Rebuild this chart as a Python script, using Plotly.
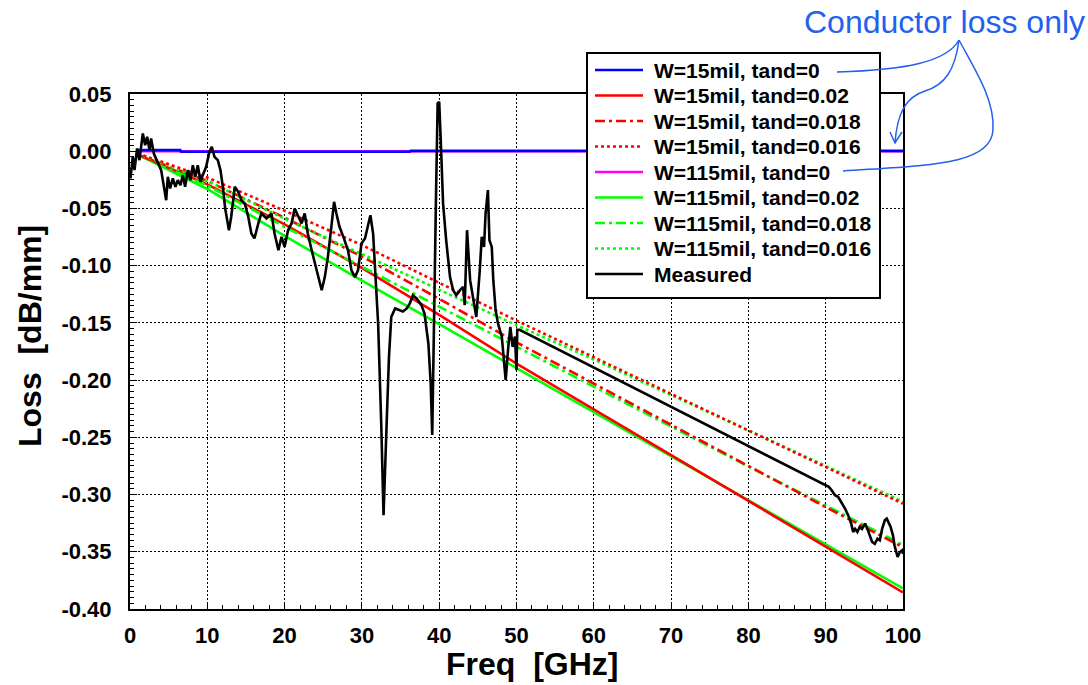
import plotly.graph_objects as go

# ---------------- data ----------------
freq_model = [1, 10, 20, 30, 40, 50, 60, 70, 80, 90, 100]

freq_w15_t0 = [1, 6.5, 6.6, 36.2, 36.3, 100]
loss_w15_t0 = [0.001, 0.001, -0.0005, -0.0005, 0.0003, 0.0003]

loss_w115_t0 = [0.0, 0.0, 0.0, 0.0, 0.0, 0.0, 0.0, 0.0, 0.0, 0.0, 0.0]

loss_w15_t020 = [-0.003, -0.029, -0.064, -0.102, -0.143, -0.1855, -0.2255, -0.2655, -0.3055, -0.3455, -0.3855]
loss_w15_t018 = [-0.003, -0.026, -0.058, -0.092, -0.129, -0.167, -0.203, -0.239, -0.275, -0.311, -0.346]
loss_w15_t016 = [-0.002, -0.023, -0.052, -0.082, -0.115, -0.148, -0.180, -0.212, -0.244, -0.276, -0.308]

loss_w115_t020 = [-0.003, -0.033, -0.074, -0.113, -0.151, -0.1895, -0.228, -0.2665, -0.305, -0.3435, -0.382]
loss_w115_t018 = [-0.003, -0.030, -0.066, -0.101, -0.136, -0.171, -0.206, -0.241, -0.2755, -0.3095, -0.344]
loss_w115_t016 = [-0.002, -0.026, -0.059, -0.090, -0.121, -0.152, -0.182, -0.213, -0.244, -0.275, -0.306]

meas_freq = [
    0.06, 0.36, 0.58, 0.92, 1.22, 1.66, 1.96, 2.22, 2.52, 2.73, 3.08, 3.38, 3.68, 4.03,
    4.46, 4.68, 4.89, 5.19, 5.54, 5.88, 6.18, 6.53, 6.83, 7.13, 7.48, 7.82, 8.13, 8.43,
    8.77, 9.12, 9.42, 9.85, 10.28, 10.58, 10.93, 11.36, 11.70, 12.01, 12.31, 12.8, 13.1,
    13.56, 14.0, 14.4, 14.85, 15.3, 15.7, 16.1, 16.6, 17.0, 17.66, 18.3, 18.7, 19.2, 19.6,
    20.0, 20.45, 20.9, 21.3, 21.75, 22.2, 22.6, 23.0, 23.5, 23.9, 24.3, 24.8, 25.2, 25.6,
    26.1, 26.4, 26.7, 27.1, 27.6, 28.2, 28.65, 29.1, 29.5, 29.95, 30.4, 30.8, 31.1, 31.45,
    31.7, 32.1, 32.5, 32.8, 33.2, 33.5, 33.8, 34.3, 34.9, 35.3, 35.8, 36.2, 36.6, 37.1,
    37.7, 38.1, 38.6, 38.9, 39.1, 39.3, 39.6, 39.8, 40.0, 40.2, 40.5, 40.9, 41.4, 41.8,
    42.2, 42.7, 43.1, 43.3, 43.6, 44.0, 44.4, 44.8, 45.25, 45.5, 45.8, 46.0, 46.3, 46.5,
    46.8, 47.0, 47.3, 47.6, 48.1, 48.4, 48.6, 48.9, 49.2, 49.5, 49.8, 50.0, 50.1, 50.4,
    90.1, 90.4, 90.75, 91.2, 91.6, 92.0, 92.5, 92.9, 93.3, 93.55, 93.8, 94.1, 94.4, 94.7,
    95.1, 95.4, 95.7, 96.0, 96.35, 96.7, 97.0, 97.3, 97.65, 97.9, 98.2, 98.4, 98.7, 98.9,
    99.3, 99.6, 99.9, 100.0,
]
meas_loss = [
    -0.0238, -0.0049, -0.0165, 0.0024, -0.0078, 0.0155, 0.0053, 0.0126, 0.0010, 0.0112,
    -0.0020, -0.0063, -0.0107, -0.0165, -0.034, -0.0428, -0.0224, -0.0325, -0.0238, -0.0311,
    -0.0253, -0.0297, -0.0209, -0.0311, -0.0165, -0.0253, -0.0122, -0.0224, -0.0122, -0.0268,
    -0.0209, -0.0136, -0.0005, 0.0039, -0.0049, -0.0078, -0.0165, -0.0311, -0.050, -0.069,
    -0.057, -0.031, -0.0355, -0.0427, -0.0456, -0.0573, -0.0719, -0.0762, -0.0631, -0.0544,
    -0.0587, -0.0544, -0.0719, -0.0865, -0.0748, -0.0836, -0.069, -0.0631, -0.050, -0.0573,
    -0.0631, -0.0544, -0.0719, -0.0865, -0.098, -0.110, -0.1215, -0.110, -0.0923, -0.0631,
    -0.0442, -0.0544, -0.066, -0.0748, -0.0865, -0.104, -0.110, -0.104, -0.0806, -0.0762,
    -0.0631, -0.0559, -0.0719, -0.107, -0.1505, -0.238, -0.318, -0.238, -0.180, -0.1448,
    -0.1374, -0.139, -0.140, -0.1374, -0.133, -0.1258, -0.1287, -0.1345, -0.1418, -0.168,
    -0.203, -0.248, -0.1505, -0.034, 0.0418, 0.0432, 0.0097, -0.0456, -0.0777, -0.110,
    -0.1214, -0.1258, -0.1214, -0.1185, -0.1345, -0.069, -0.1127, -0.1273, -0.1448, -0.104,
    -0.0748, -0.0836, -0.0544, -0.034, -0.0777, -0.0836, -0.1127, -0.139, -0.1505, -0.162,
    -0.1826, -0.200, -0.174, -0.1535, -0.171, -0.162, -0.1913, -0.156, -0.156,
    -0.2919, -0.2933, -0.296, -0.3006, -0.302, -0.3065, -0.3122, -0.318, -0.3254, -0.3327,
    -0.330, -0.3327, -0.3283, -0.330, -0.3254, -0.330, -0.3356, -0.3414, -0.343, -0.3385,
    -0.340, -0.330, -0.3225, -0.321, -0.3254, -0.3283, -0.3356, -0.3443, -0.3545, -0.3502,
    -0.3487, -0.352,
]

x_ticks = [0, 10, 20, 30, 40, 50, 60, 70, 80, 90, 100]
y_ticks = [0.05, 0.00, -0.05, -0.10, -0.15, -0.20, -0.25, -0.30, -0.35, -0.40]
y_tick_text = ["0.05", "0.00", "-0.05", "-0.10", "-0.15", "-0.20", "-0.25", "-0.30", "-0.35", "-0.40"]

# ---------------- geometry ----------------
W, H = 1088, 685
ML, MR, MT, MB = 130, 185, 94, 76
PW, PH = W - ML - MR, H - MT - MB


def px(x):
    return (x - ML) / PW


def py(y):
    return (H - MB - y) / PH


DASHDOT = "10px,4px,3px,4px"
DOT = "3px,3px"
LW = 2.6
BLUE_NOTE = "rgb(35,95,240)"
FONT = "Arial, Liberation Sans"

fig = go.Figure()

# (name, colour, dash, x, y, legend slot); magenta is drawn first so the blue line covers it
series = [
    ("W=115mil, tand=0", "#ff00ff", "solid", freq_model, loss_w115_t0, 4),
    ("W=15mil, tand=0", "#0000ff", "solid", freq_w15_t0, loss_w15_t0, 0),
    ("W=115mil, tand=0.02", "#00ff00", "solid", freq_model, loss_w115_t020, 5),
    ("W=15mil, tand=0.02", "#ff0000", "solid", freq_model, loss_w15_t020, 1),
    ("W=115mil, tand=0.018", "#00ff00", DASHDOT, freq_model, loss_w115_t018, 6),
    ("W=15mil, tand=0.018", "#ff0000", DASHDOT, freq_model, loss_w15_t018, 2),
    ("W=115mil, tand=0.016", "#00ff00", DOT, freq_model, loss_w115_t016, 7),
    ("W=15mil, tand=0.016", "#ff0000", DOT, freq_model, loss_w15_t016, 3),
    ("Measured", "#000000", "solid", meas_freq, meas_loss, 8),
]
for name, color, dash, xs, ys, _ in series:
    width = 2.6 if name == "Measured" else LW
    fig.add_trace(go.Scatter(x=xs, y=ys, mode="lines", name=name,
                             line=dict(color=color, width=width, dash=dash)))

axis_common = dict(
    showline=True, linecolor="black", linewidth=2, mirror=True,
    ticks="inside", ticklen=7, tickwidth=1, tickcolor="black",
    showgrid=True, gridcolor="black", gridwidth=1, griddash="2px,2px",
    zeroline=False,
    tickfont=dict(family=FONT, size=22, color="black", weight="bold"),
)

fig.update_xaxes(
    range=[0, 100], tickvals=x_ticks,
    minor=dict(dtick=2, ticks="inside", ticklen=4, tickcolor="black", showgrid=False),
    ticklabelstandoff=6,
    **axis_common,
)
fig.update_yaxes(
    range=[-0.40, 0.05], tickvals=y_ticks, ticktext=y_tick_text,
    minor=dict(dtick=0.005, ticks="inside", ticklen=4, tickcolor="black", showgrid=False),
    ticklabelstandoff=12,
    **axis_common,
)

title_font = dict(family=FONT, size=32, color="black", weight="bold")

annotations = [
    dict(text="Freq\u00a0 [GHz]", x=px(532), y=py(664), xref="paper", yref="paper",
         showarrow=False, font=title_font, xanchor="center", yanchor="middle"),
    dict(text="Loss\u00a0 [dB/mm]", x=px(30), y=py(336), xref="paper", yref="paper",
         showarrow=False, font=title_font, textangle=-90,
         xanchor="center", yanchor="middle"),
    dict(text="Conductor loss only", x=px(944), y=py(22), xref="paper", yref="paper",
         showarrow=False, xanchor="center", yanchor="middle",
         font=dict(family=FONT, size=32, color=BLUE_NOTE)),
]

shapes = []

# ---- legend box with line samples and labels ----
LEG_X0, LEG_X1, LEG_Y0, LEG_Y1 = 587, 880, 53, 298
ROW_Y0, ROW_STEP = 70, 25.5
shapes.append(dict(type="rect", xref="paper", yref="paper",
                   x0=px(LEG_X0), x1=px(LEG_X1), y0=py(LEG_Y1), y1=py(LEG_Y0),
                   fillcolor="white", line=dict(color="black", width=2), layer="above"))
for name, color, dash, _, _, slot in series:
    ry = ROW_Y0 + slot * ROW_STEP
    shapes.append(dict(type="line", xref="paper", yref="paper",
                       x0=px(595), x1=px(643), y0=py(ry), y1=py(ry),
                       line=dict(color=color, width=2.4, dash=dash), layer="above"))
    annotations.append(dict(text=name, x=px(652), y=py(ry), xref="paper", yref="paper",
                            showarrow=False, xanchor="left", yanchor="middle",
                            font=dict(family=FONT, size=21, color="black", weight="bold")))


def path(points_cmds):
    out = []
    for cmd, pts in points_cmds:
        coords = " ".join(f"{px(a):.5f},{py(b):.5f}" for a, b in pts)
        out.append(f"{cmd} {coords}")
    return " ".join(out)


note_curves = [
    [("M", [(959, 40)]), ("C", [(947, 62), (905, 70), (837, 72)])],
    [("M", [(959, 40)]), ("C", [(955, 70), (945, 85), (925, 91)]),
     ("C", [(905, 97), (897, 115), (895, 143)])],
    [("M", [(890, 132)]), ("L", [(895, 143)]), ("L", [(902, 132)])],
    [("M", [(959, 40)]), ("C", [(975, 70), (995, 100), (993, 130)]),
     ("C", [(991, 165), (930, 165), (843, 171)])],
]
for c in note_curves:
    shapes.append(dict(type="path", xref="paper", yref="paper", path=path(c),
                       line=dict(color=BLUE_NOTE, width=1.5), layer="above"))

fig.update_layout(
    width=W, height=H,
    margin=dict(l=ML, r=MR, t=MT, b=MB, autoexpand=False),
    paper_bgcolor="white", plot_bgcolor="white",
    showlegend=False,
    annotations=annotations,
    shapes=shapes,
)

fig.write_html("out.html")
